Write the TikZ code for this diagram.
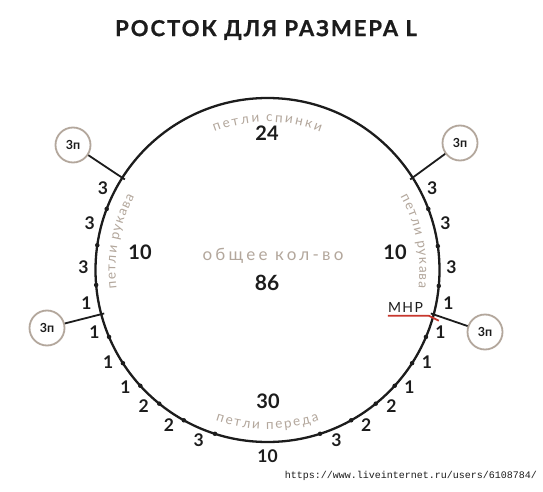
\documentclass[tikz,border=0pt]{standalone}
\usepackage{fontspec}
\setmainfont{Lato}
\newfontfamily\titlefont[LetterSpace=9, BoldFeatures={FakeBold=0.8}]{Lato}
\newfontfamily\spacedfont[LetterSpace=19]{Lato}
\newfontfamily\mnrfont[LetterSpace=10]{Lato}
\newfontfamily\wmfont{Liberation Mono}
\usetikzlibrary{calc,decorations.text}
\definecolor{beige}{HTML}{B3A79C}
\definecolor{ink}{HTML}{1C1C1C}
\definecolor{mnrred}{HTML}{C8372D}
\newcommand\arcfont{\fontsize{13.5}{13.5}\selectfont}
\begin{document}
\begin{tikzpicture}[x=1pt,y=1pt,
  ringnum/.style={font=\fontsize{17.5}{17.5}\selectfont\bfseries, text=ink, inner sep=0},
  bignum/.style={font=\fontsize{20}{20}\selectfont\bfseries, text=ink, inner sep=0},
  loopcirc/.style={circle, draw=beige, line width=1.8pt, minimum size=35pt, inner sep=0, font=\fontsize{12.5}{12.5}\selectfont\bfseries, text=ink},
  stitchdot/.style={circle, fill=ink, inner sep=0, minimum size=4.5pt},
  link/.style={line width=1.8pt, draw=ink},
  arctext/.style={font=\arcfont, text=beige, decorate, decoration={text effects along path, text={#1},
     text effects/.cd, fit text to path, characters={text along path, text=beige, font=\arcfont}}},
]
\useasboundingbox (0,0) rectangle (543,491);
\fill[white] (0,0) rectangle (543,491);
\coordinate (C) at (267.5,221);
\draw[ink, line width=2.3pt] (C) circle[radius=172];

\node[font=\titlefont\fontsize{22}{22}\selectfont\bfseries, text=ink, inner sep=0] (title) at (266,461) {РОСТОК ДЛЯ РАЗМЕРА L};

% stitch dots
\foreach \a [count=\i] in {159.2,171.7,185,20.8,8,-5.3,202.9,212.8,222.3,231,240.9,252.2,-22.9,-32.8,-42.3,-51,-60.9,-72.2}
  \node[stitchdot] (dot\i) at ($(C)+(\a:172)$) {};

% ticks
\coordinate (tickTL) at ($(C)+(147.6:169)$);
\coordinate (tickTR) at ($(C)+(32.4:169)$);
\coordinate (tickL) at ($(C)+(194.9:169)$);
\coordinate (tickR) at ($(C)+(-14.9:169)$);

\node[loopcirc] (loopTL) at (73,346) {3п};
\node[loopcirc] (loopTR) at (460,348) {3п};
\node[loopcirc] (loopL) at (47,163) {3п};
\node[loopcirc] (loopR) at (485,159) {3п};
\draw[link] (tickTL) -- (loopTL);
\draw[link] (tickTR) -- (loopTR);
\draw[link] (tickL) -- (loopL);
\draw[link] (tickR) -- (loopR);

% ring labels
\foreach \a/\t [count=\i] in {153.5/3,165.2/3,179/3,190.4/1,199.9/1,210/1,219.5/1,227.7/2,237.6/2,248/3,
  26.5/3,14.8/3,1/3,-10.4/1,-19.9/1,-30/1,-39.5/1,-47.7/2,-57.6/2,-68/3}
  \node[ringnum] (lab\i) at ($(C)+(\a:184)$) {\t};
\node[ringnum] (labBottom) at ($(C)+(270:186.5)$) {10};

% inner numbers
\node[bignum] (n24) at (267,358) {24};
\node[bignum] (n10l) at (140,239) {10};
\node[bignum] (n10r) at (395,239) {10};
\node[bignum] (n30) at (268,89.5) {30};
\node[font=\fontsize{21}{21}\selectfont\bfseries, text=ink, inner sep=0] (n86) at (267,208) {86};
\node[font=\spacedfont\fontsize{17}{17}\selectfont, text=beige, inner sep=0, anchor=base] (total) at (273,231) {общее кол-во};

% arc labels
\path[arctext={петли спинки}] ($(C)+(111:148)$) arc[start angle=111, end angle=69, radius=148];
\path[arctext={петли рукава}] ($(C)+(187:152)$) arc[start angle=187, end angle=151, radius=152];
\path[arctext={петли рукава}] ($(C)+(29:152)$) arc[start angle=29, end angle=-7, radius=152];
\path[arctext={петли переда}] ($(C)+(251:159)$) arc[start angle=251, end angle=289, radius=159];

% MNR marker
\node[font=\mnrfont\fontsize{14}{14}\selectfont, text=ink, inner sep=0] (mnr) at (405.5,183.5) {МНР};
\draw[mnrred, line width=1.8pt] ($(mnr.south west)+(0,-3)$) -- ++(41,0) -- ++(10,-5);

\node[font=\wmfont\fontsize{10}{10}\selectfont, text=ink, anchor=east, inner sep=0] (wm) at (537,15) {https://www.liveinternet.ru/users/6108784/};
\end{tikzpicture}
\end{document}
